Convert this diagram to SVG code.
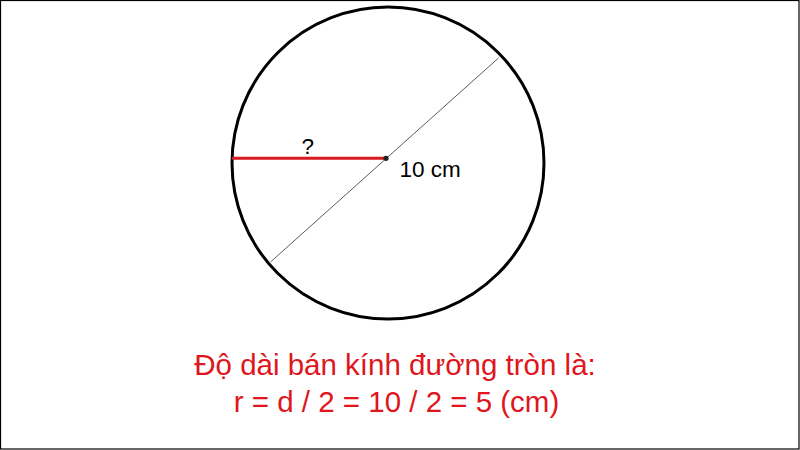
<svg xmlns="http://www.w3.org/2000/svg" width="800" height="450" viewBox="0 0 800 450">
<style>
.lbl{font-family:"Liberation Sans",Arial,sans-serif;font-size:22.5px;fill:#000}
.cap{font-family:"Liberation Sans",Arial,sans-serif;font-size:29.5px;fill:#e0161c;text-anchor:middle}
</style>
<rect x="0.5" y="0.5" width="798.5" height="448.5" fill="#fff" stroke="#000" stroke-width="1.2"/>
<g id="circle">
<circle cx="388" cy="163" r="156" fill="none" stroke="#000" stroke-width="3"/>
</g>
<g id="connectors">
<line id="diameter" x1="270.5" y1="262" x2="498.5" y2="58" stroke="#6b5555" stroke-width="1"/>
<line id="radius" x1="232" y1="158.3" x2="386" y2="158.3" stroke="#d8191f" stroke-width="3"/>
</g>
<g id="center">
<circle cx="386" cy="158.3" r="2.6" fill="#222"/>
</g>
<g id="labels">
<text class="lbl" x="301.5" y="154">?</text>
<text class="lbl" x="399.5" y="176.5">10 cm</text>
</g>
<g id="caption">
<text class="cap" x="395" y="375">Độ dài bán kính đường tròn là:</text>
<text class="cap" x="396.5" y="411.5">r = d / 2 = 10 / 2 = 5 (cm)</text>
</g>
</svg>
